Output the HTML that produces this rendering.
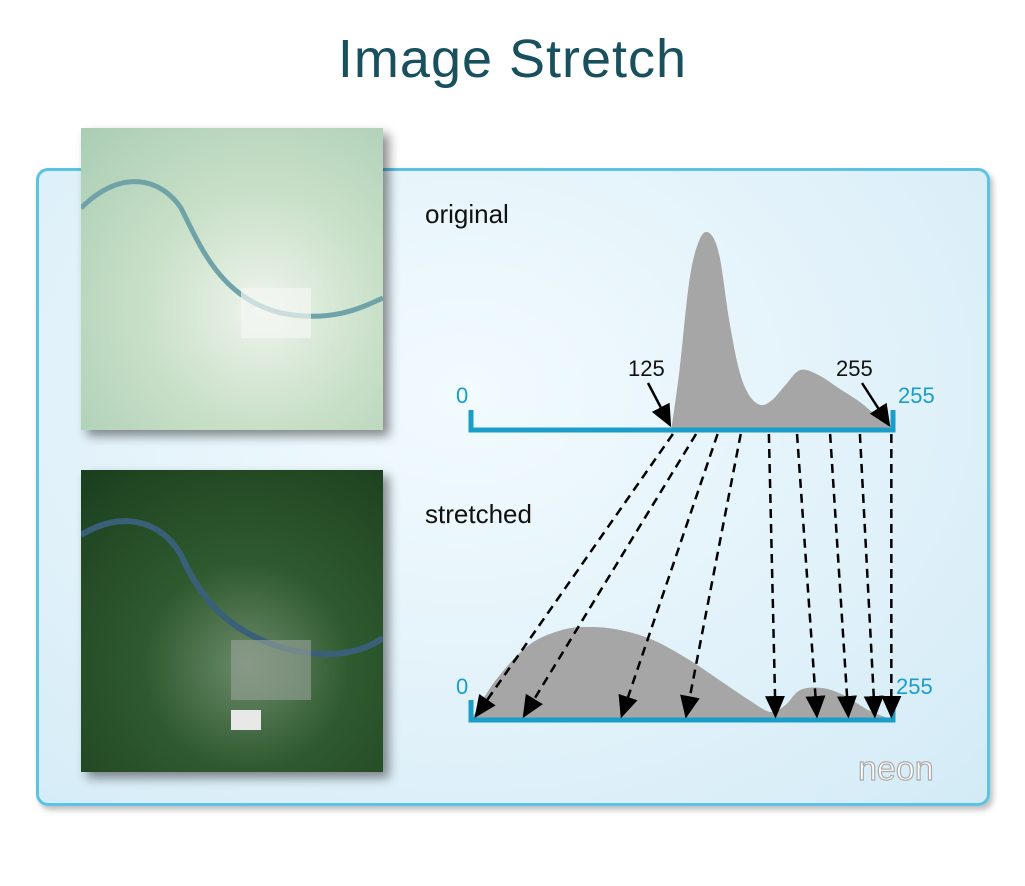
<!DOCTYPE html>
<html><head><meta charset="utf-8">
<style>
html,body{margin:0;padding:0;background:#fff;width:1025px;height:886px;overflow:hidden;font-family:"Liberation Sans",sans-serif;}
#title{position:absolute;left:0;width:1025px;top:28px;text-align:center;font-size:54px;color:#18505e;letter-spacing:1px;}
#panel{position:absolute;left:36px;top:168px;width:948px;height:632px;border:3px solid #5cc3e2;border-radius:12px;
background:radial-gradient(ellipse at 45% 35%,#f2fbfe 0%,#e2f2fa 55%,#d3ebf6 100%);box-shadow:3px 4px 6px rgba(0,0,0,0.25);}
.img{position:absolute;left:81px;width:302px;height:302px;box-shadow:6px 6px 10px rgba(0,0,0,0.45);overflow:hidden;}
#img1{top:128px;background:radial-gradient(circle at 60% 60%,#eef4ec 0%,#c9e0c8 45%,#a9cdb3 100%);}
#img2{top:470px;background:radial-gradient(circle at 55% 65%,#6b8a6a 0%,#2f5a2f 40%,#1b3e1d 100%);}
svg#chart{position:absolute;left:0;top:0;}
</style></head><body>
<div id="title">Image Stretch</div>
<div id="panel"></div>
<div class="img" id="img1">
<svg width="302" height="302"><path d="M0,80 C40,40 80,50 100,80 C120,120 140,170 200,185 C250,195 280,180 302,170" stroke="#6fa3a8" stroke-width="5" fill="none"/><rect x="160" y="160" width="70" height="50" fill="#f4f6f2" opacity="0.7"/></svg></div>
<div class="img" id="img2">
<svg width="302" height="302"><path d="M0,65 C40,40 80,50 100,85 C120,130 150,165 210,180 C255,190 285,180 302,168" stroke="#3a5f78" stroke-width="6" fill="none"/><rect x="150" y="170" width="80" height="60" fill="#9aa39a" opacity="0.6"/><rect x="150" y="240" width="30" height="20" fill="#e8e8e8"/></svg></div>
<svg id="chart" width="1025" height="886">
<defs><marker id="ah" markerWidth="10" markerHeight="10" refX="8" refY="5" orient="auto"><path d="M0,1 L9,5 L0,9 z" fill="#000"/></marker></defs>
<g id="g"></g>
<text x="425" y="223" font-size="26" fill="#111">original</text>
<text x="425" y="523" font-size="26" fill="#111">stretched</text>
<text x="456" y="403" font-size="22" fill="#1a9ec9">0</text>
<text x="898" y="403" font-size="22" fill="#1a9ec9">255</text>
<text x="456" y="694" font-size="22" fill="#1a9ec9">0</text>
<text x="896" y="694" font-size="22" fill="#1a9ec9">255</text>
<text x="628" y="376" font-size="22" fill="#111">125</text>
<text x="836" y="376" font-size="22" fill="#111">255</text>
<path d="M648,383 L670,425" stroke="#000" stroke-width="2.5" marker-end="url(#ah)"/>
<path d="M862,383 L889,425" stroke="#000" stroke-width="2.5" marker-end="url(#ah)"/>
<text x="858" y="780" font-size="34" fill="#fff" stroke="#aaa" stroke-width="1.2">neon</text>
</svg>
<script>
const topValues=[121,126,132,138,144,150,156,162,168,175,182,190,199,210,222,235,245,255];
const topCounts=[0,60,150,190,197,175,110,60,35,25,30,45,60,55,42,28,14,0];
const botValues=[0,15,35,55,72,90,110,132,150,168,181,190,199,212,225,240,255];
const botCounts=[0,40,75,90,93,90,80,60,40,20,8,15,30,32,25,10,0];
const fromValues=[122,136,149,163,180,197,217,235,254];
const toValues=[3,32,91,130,184,209,228,244,254];
const X0=471,X1=893,TOPY=430,BOTY=720;
const sx=v=>X0+(X1-X0)*v/255;
const g=document.getElementById('g');
const NS='http://www.w3.org/2000/svg';
function smooth(pts){let d='M'+pts[0][0]+','+pts[0][1];
for(let i=0;i<pts.length-1;i++){const p0=pts[Math.max(0,i-1)],p1=pts[i],p2=pts[i+1],p3=pts[Math.min(pts.length-1,i+2)];
d+=` C${p1[0]+(p2[0]-p0[0])/6},${p1[1]+(p2[1]-p0[1])/6} ${p2[0]-(p3[0]-p1[0])/6},${p2[1]-(p3[1]-p1[1])/6} ${p2[0]},${p2[1]}`;}return d;}
function hist(vals,counts,base,name){const pts=vals.map((v,i)=>[sx(v),base-counts[i]]);
const p=document.createElementNS(NS,'path');p.setAttribute('d',smooth(pts)+' Z');p.setAttribute('fill','#a6a6a6');


g.appendChild(p);}
function axis(y,name){const p=document.createElementNS(NS,'path');
p.setAttribute('d',`M${X0},${y-20} L${X0},${y} L${X1},${y} L${X1},${y-20}`);
p.setAttribute('stroke','#1a9ec9');p.setAttribute('stroke-width','5');p.setAttribute('fill','none');


g.appendChild(p);}
hist(topValues,topCounts,TOPY,'original-histogram');
hist(botValues,botCounts,BOTY,'stretched-histogram');
axis(TOPY,'original-axis');axis(BOTY,'stretched-axis');
fromValues.forEach((v,i)=>{const l=document.createElementNS(NS,'line');
l.setAttribute('x1',sx(v));l.setAttribute('y1',TOPY+4);l.setAttribute('x2',sx(toValues[i]));l.setAttribute('y2',BOTY-4);
l.setAttribute('stroke','#000');l.setAttribute('stroke-width','2.5');l.setAttribute('stroke-dasharray','9,6');l.setAttribute('marker-end','url(#ah)');


g.appendChild(l);});
</script>
</body></html>
